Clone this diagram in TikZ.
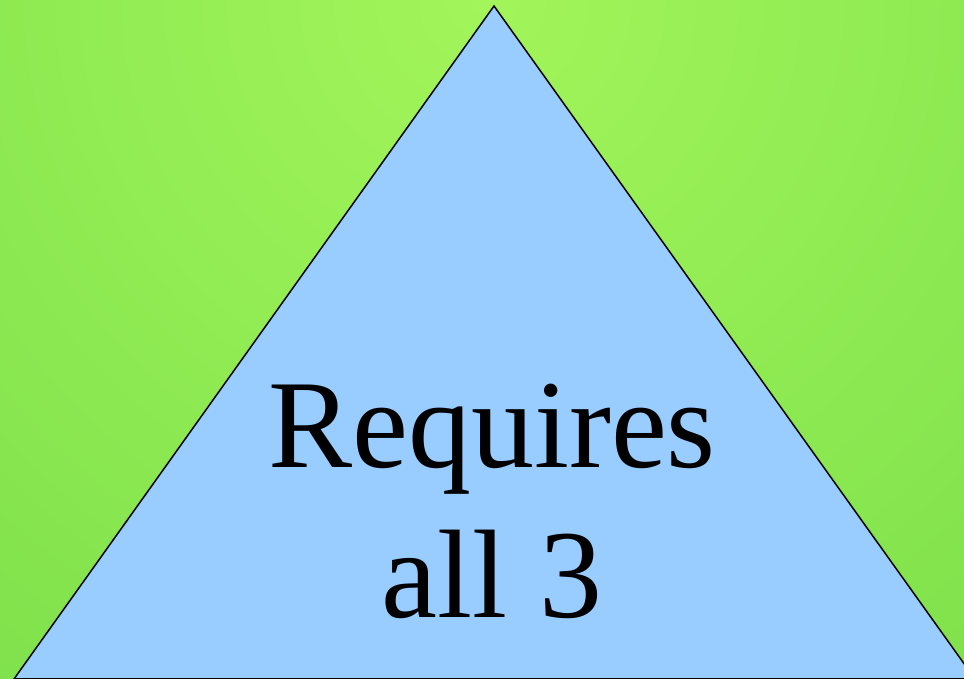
\documentclass[tikz,border=0pt]{standalone}
\usepackage{fontspec}
\setmainfont{Liberation Serif}
\definecolor{bgA}{HTML}{A2F55A}
\definecolor{bgB}{HTML}{7ADE4A}
\definecolor{bgC}{HTML}{6ED243}
\definecolor{triblue}{HTML}{99CCFF}
\pgfdeclareradialshading{bgshade}{\pgfpoint{0bp}{0bp}}{color(0bp)=(bgA); color(31bp)=(bgB); color(50bp)=(bgC); color(75bp)=(bgC)}
\tikzset{
  tri/.style={fill=triblue, draw=black, line width=1.5pt, line join=miter},
  bigtext/.style={font=\fontsize{126}{150}\selectfont, text=black, inner sep=0pt, anchor=base}
}
\begin{document}
\begin{tikzpicture}[x=1pt,y=1pt]
  \useasboundingbox (0,0) rectangle (964,679);
  \clip (0,0) rectangle (964,679);
  \shade[shading=bgshade] (-306,-109) rectangle (1270,1467);
  \coordinate (apex) at (494,673);
  \coordinate (bl) at (14,0);
  \coordinate (br) at (975,0);
  \path[tri] (bl) -- (apex) -- (br) -- cycle;
  \node[bigtext] (line1) at (492,211) {Requires};
  \node[bigtext] (line2) at (492,61) {all 3};
\end{tikzpicture}
\end{document}
